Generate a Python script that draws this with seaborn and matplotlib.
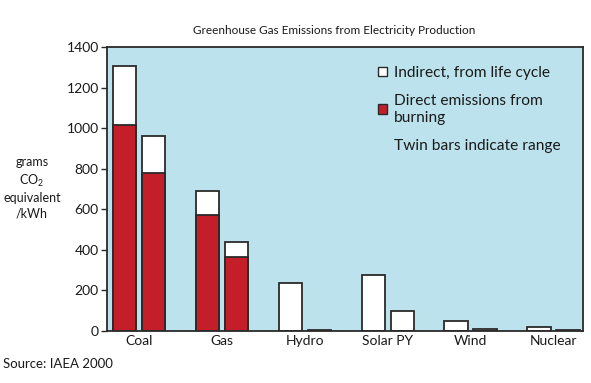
import matplotlib
matplotlib.use("Agg")
import matplotlib.pyplot as plt
import seaborn as sns
import pandas as pd
from matplotlib.patches import Patch

categories = ["Coal", "Gas", "Hydro", "Solar PY", "Wind", "Nuclear"]
total_high = [1306, 688, 235, 274, 49, 18]
direct_high = [1015, 572, 0, 0, 0, 0]
total_low = [961, 437, 5, 98, 8, 6]
direct_low = [777, 363, 0, 0, 0, 0]
y_ticks = [0, 200, 400, 600, 800, 1000, 1200, 1400]

rows = []
for i, c in enumerate(categories):
    rows.append({"category": c, "variant": "high", "total": total_high[i], "direct": direct_high[i]})
    rows.append({"category": c, "variant": "low", "total": total_low[i], "direct": direct_low[i]})
df = pd.DataFrame(rows)
df_direct = df[df["direct"] > 0]

sns.set_theme(style="white")
plt.rcParams["font.family"] = ["Lato", "DejaVu Sans"]
plt.rcParams["mathtext.default"] = "regular"

BG = "#bce3ed"
RED = "#c41e2a"
EDGE = "#2a2a2a"

fig = plt.figure(figsize=(5.91, 3.83), dpi=100)
ax = fig.add_axes([107/591, 1-331/383, (583-107)/591, (331-47)/383])
ax.set_facecolor(BG)

common = dict(x="category", y="total", hue="variant", order=categories,
              hue_order=["high", "low"], width=0.70, gap=0.2, errorbar=None,
              edgecolor=EDGE, linewidth=1.3, legend=False, saturation=1, ax=ax)
sns.barplot(data=df, palette={"high": "white", "low": "white"}, **common)
common["y"] = "direct"
sns.barplot(data=df_direct, palette={"high": RED, "low": RED}, **common)

ax.set_xlim(-0.386, 5.356)
ax.set_ylim(0, 1400)
ax.set_yticks(y_ticks)
ax.set_yticklabels([str(t) for t in y_ticks], fontsize=10, color="#1a1a1a")
ax.tick_params(axis="y", direction="out", length=4, width=1, color=EDGE, left=True, pad=2)
ax.tick_params(axis="x", length=0, labelsize=10, labelcolor="#1a1a1a", pad=3)
ax.set_xlabel("")
ax.set_ylabel("")
for s in ax.spines.values():
    s.set_color(EDGE)
    s.set_linewidth(1.3)

handles = [Patch(facecolor="white", edgecolor=EDGE, linewidth=1),
           Patch(facecolor=RED, edgecolor=EDGE, linewidth=1),
           Patch(facecolor="none", edgecolor="none")]
labels = ["Indirect, from life cycle", "Direct emissions from\nburning", "Twin bars indicate range"]
leg = ax.legend(handles, labels, loc="upper left", bbox_to_anchor=((378-107)/476, 1 - 19/284),
                frameon=False, fontsize=11.2, handlelength=0.6, handleheight=0.6,
                handletextpad=0.45, labelspacing=0.9, borderaxespad=0, borderpad=0)
for t in leg.get_texts():
    t.set_color("#1a1a1a")
    t.set_linespacing(1.25)

fig.text(334/591, 1-31/383, "Greenhouse Gas Emissions from Electricity Production",
         ha="center", va="center", fontsize=8.5, color="#1a1a1a")
fig.text(32/591, 1-188/383, "grams\nCO$_2$\nequivalent\n/kWh", ha="center", va="center",
         fontsize=9, color="#1a1a1a", linespacing=1.35)
fig.text(3/591, 1-364/383, "Source: IAEA 2000", ha="left", va="center",
         fontsize=9.5, color="#1a1a1a")

fig.savefig("out.png", dpi=100, facecolor="white")
